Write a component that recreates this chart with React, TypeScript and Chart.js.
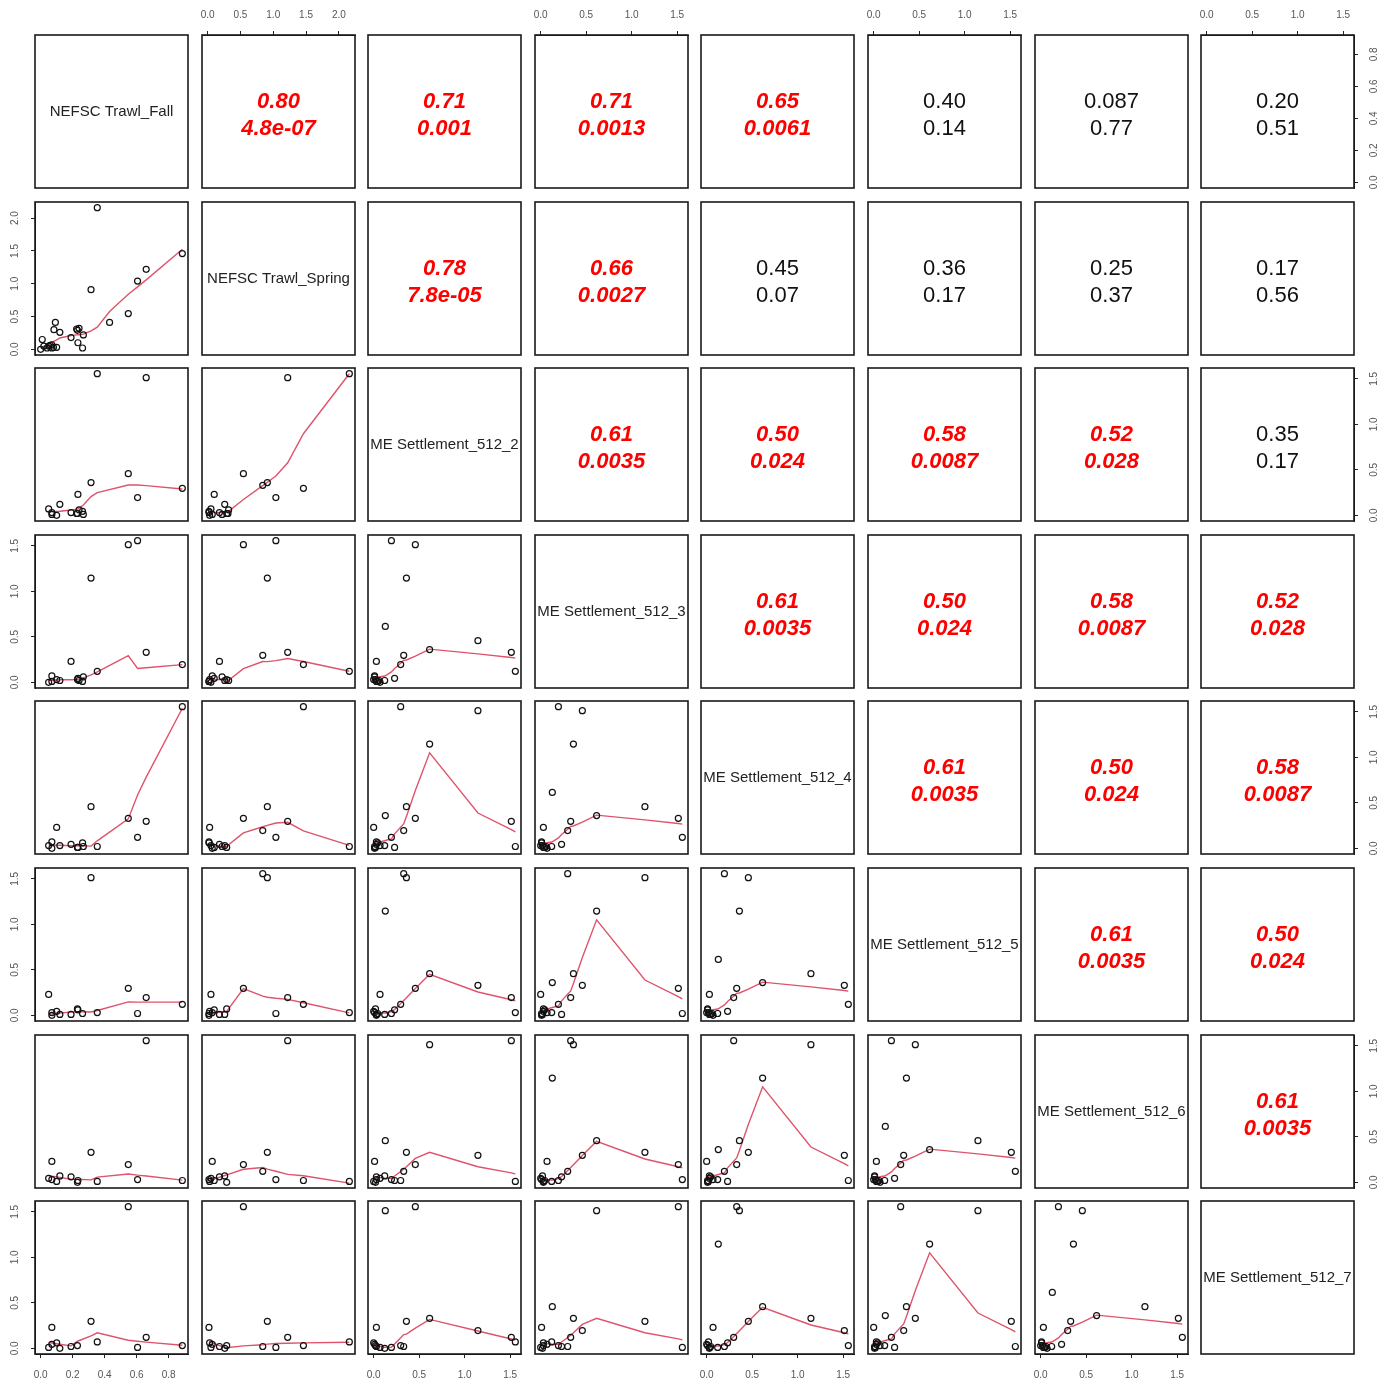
import React, { useEffect, useRef } from "react";
import { Chart, registerables } from "chart.js";

Chart.register(...registerables);

const _ = null;

// ---------- data (one entry per year row) ----------
const fall: (number | null)[] = [
  0.02, 0.01, 0.04, 0.092, 0.083, 0.431, 0.06, 0.0, 0.08,
  0.225, 0.24, 0.267, 0.262, 0.233, 0.19, 0.1, 0.05, 0.07, 0.07,
  0.23, 0.12, 0.354, 0.606, 0.886, _, 0.66, 0.548, _, 0.315,
  _, _, _, _, _, _, _,
];
const spring: (number | null)[] = [
  0.05, 0.15, 0.02, 0.41, 0.3, 0.41, 0.06, 0.0, 0.03,
  0.31, 0.32, 0.22, 0.02, 0.1, 0.18, 0.03, 0.05, 0.07, 0.02,
  0.29, 0.26, 2.16, 1.04, 1.46, 0.84, 1.22, 0.545, _, 0.91,
  _, _, _, _, _, _, _,
];
const settle2: (number | null)[] = [
  _, _, _, _, _, _, _, _, _,
  0.02, 0.06, 0.01, 0.044, 0.23, 0.03, 0.0, 0.07, 0.01, 0.03, 0.02,
  0.121, 1.557, 0.195, 0.297, 0.33, 1.513, 0.458, 1.146, 0.36, 0.615, 0.128,
  _, _, _, _, _,
];
const settle3: (number | null)[] = [
  _, _, _, _, _, _, _, _, _, _,
  0.02, 0.06, 0.01, 0.044, 0.23, 0.03, 0.0, 0.07, 0.01, 0.03, 0.02,
  0.121, 1.557, 0.195, 0.297, 0.33, 1.513, 0.458, 1.146, 0.36, 0.615, 0.128,
  _, _, _, _,
];
const settle4: (number | null)[] = [
  _, _, _, _, _, _, _, _, _, _, _,
  0.02, 0.06, 0.01, 0.044, 0.23, 0.03, 0.0, 0.07, 0.01, 0.03, 0.02,
  0.121, 1.557, 0.195, 0.297, 0.33, 1.513, 0.458, 1.146, 0.36, 0.615, 0.128,
  _, _, _,
];
const settle5: (number | null)[] = [
  _, _, _, _, _, _, _, _, _, _, _, _,
  0.02, 0.06, 0.01, 0.044, 0.23, 0.03, 0.0, 0.07, 0.01, 0.03, 0.02,
  0.121, 1.557, 0.195, 0.297, 0.33, 1.513, 0.458, 1.146, 0.36, 0.615, 0.128,
  _, _,
];
const settle6: (number | null)[] = [
  _, _, _, _, _, _, _, _, _, _, _, _, _,
  0.02, 0.06, 0.01, 0.044, 0.23, 0.03, 0.0, 0.07, 0.01, 0.03, 0.02,
  0.121, 1.557, 0.195, 0.297, 0.33, 1.513, 0.458, 1.146, 0.36, 0.615, 0.128,
  _,
];
const settle7: (number | null)[] = [
  _, _, _, _, _, _, _, _, _, _, _, _, _, _,
  0.02, 0.06, 0.01, 0.044, 0.23, 0.03, 0.0, 0.07, 0.01, 0.03, 0.02,
  0.121, 1.557, 0.195, 0.297, 0.33, 1.513, 0.458, 1.146, 0.36, 0.615, 0.128,
];

const varNames = [
  "NEFSC Trawl_Fall",
  "NEFSC Trawl_Spring",
  "ME Settlement_512_2",
  "ME Settlement_512_3",
  "ME Settlement_512_4",
  "ME Settlement_512_5",
  "ME Settlement_512_6",
  "ME Settlement_512_7",
];
const fallTicks = [0, 0.2, 0.4, 0.6, 0.8];
const springTicks = [0, 0.5, 1, 1.5, 2];
const settleTicks = [0, 0.5, 1, 1.5];

// correlation coefficients and p-values of the upper panels (row by row)
const corR = [
  ["0.80", "0.71", "0.71", "0.65", "0.40", "0.087", "0.20"],
  ["0.78", "0.66", "0.45", "0.36", "0.25", "0.17"],
  ["0.61", "0.50", "0.58", "0.52", "0.35"],
  ["0.61", "0.50", "0.58", "0.52"],
  ["0.61", "0.50", "0.58"],
  ["0.61", "0.50"],
  ["0.61"],
];
const corP = [
  ["4.8e-07", "0.001", "0.0013", "0.0061", "0.14", "0.77", "0.51"],
  ["7.8e-05", "0.0027", "0.07", "0.17", "0.37", "0.56"],
  ["0.0035", "0.024", "0.0087", "0.028", "0.17"],
  ["0.0035", "0.024", "0.0087", "0.028"],
  ["0.0035", "0.024", "0.0087"],
  ["0.0035", "0.024"],
  ["0.0035"],
];

const VARS = [fall, spring, settle2, settle3, settle4, settle5, settle6, settle7];
const TICKS = [fallTicks, springTicks, settleTicks, settleTicks, settleTicks, settleTicks, settleTicks, settleTicks];

// ---------- layout ----------
const BOX0 = 35;
const STEP = 166.6;
const BOX = 153;
const AX = 34;
const FONT = '"Liberation Sans", Arial, Helvetica, sans-serif';

// ---------- lowess (as in R's clowess) ----------
function lowest(x: number[], y: number[], n: number, xs: number, nleft: number, nright: number,
  w: number[], userw: boolean, rw: number[]): number | null {
  const range = x[n - 1] - x[0];
  const h = Math.max(xs - x[nleft], x[nright] - xs);
  const h9 = 0.999 * h, h1 = 0.001 * h;
  let a = 0;
  let j = nleft;
  while (j < n) {
    w[j] = 0;
    const r = Math.abs(x[j] - xs);
    if (r <= h9) {
      if (r <= h1) w[j] = 1;
      else w[j] = Math.pow(1 - Math.pow(r / h, 3), 3);
      if (userw) w[j] *= rw[j];
      a += w[j];
    } else if (x[j] > xs) break;
    j++;
  }
  const nrt = j - 1;
  if (a <= 0) return null;
  for (j = nleft; j <= nrt; j++) w[j] /= a;
  if (h > 0) {
    a = 0;
    for (j = nleft; j <= nrt; j++) a += w[j] * x[j];
    let b = xs - a;
    let c = 0;
    for (j = nleft; j <= nrt; j++) c += w[j] * (x[j] - a) * (x[j] - a);
    if (Math.sqrt(c) > 0.001 * range) {
      b /= c;
      for (j = nleft; j <= nrt; j++) w[j] *= b * (x[j] - a) + 1;
    }
  }
  let ys = 0;
  for (j = nleft; j <= nrt; j++) ys += w[j] * y[j];
  return ys;
}

function lowess(x: number[], y: number[], f = 2 / 3, nsteps = 3): number[] {
  const n = x.length;
  if (n < 2) return y.slice();
  const ys = new Array(n).fill(0);
  const rw = new Array(n).fill(1);
  const res = new Array(n).fill(0);
  const ns = Math.max(2, Math.min(n, Math.floor(f * n + 1e-7)));
  const delta = 0.01 * (x[n - 1] - x[0]);
  let iter = 1;
  while (iter <= nsteps + 1) {
    let nleft = 0, nright = ns - 1, last = -1, i = 0;
    for (;;) {
      if (nright < n - 1) {
        const d1 = x[i] - x[nleft], d2 = x[nright + 1] - x[i];
        if (d1 > d2) { nleft++; nright++; continue; }
      }
      const v = lowest(x, y, n, x[i], nleft, nright, res, iter > 1, rw);
      ys[i] = v === null ? y[i] : v;
      if (last < i - 1) {
        const denom = x[i] - x[last];
        for (let j = last + 1; j < i; j++) {
          const alpha = (x[j] - x[last]) / denom;
          ys[j] = alpha * ys[i] + (1 - alpha) * ys[last];
        }
      }
      last = i;
      const cut = x[last] + delta;
      for (i = last + 1; i < n; i++) {
        if (x[i] > cut) break;
        if (x[i] === x[last]) { ys[i] = ys[last]; last = i; }
      }
      i = Math.max(last + 1, i - 1);
      if (last >= n - 1) break;
    }
    let sc = 0;
    for (let k = 0; k < n; k++) { res[k] = y[k] - ys[k]; sc += Math.abs(res[k]); }
    sc /= n;
    if (iter > nsteps) break;
    const sorted = res.map(Math.abs).sort((p, q) => p - q);
    const m1 = Math.floor(n / 2);
    const cmad = n % 2 === 0 ? 3 * (sorted[m1] + sorted[n - m1 - 1]) : 6 * sorted[m1];
    if (cmad < 1e-7 * sc) break;
    const c9 = 0.999 * cmad, c1 = 0.001 * cmad;
    for (let k = 0; k < n; k++) {
      const r = Math.abs(res[k]);
      rw[k] = r <= c1 ? 1 : r <= c9 ? Math.pow(1 - Math.pow(r / cmad, 2), 2) : 0;
    }
    iter++;
  }
  return ys;
}

function rangeOf(v: (number | null)[]): [number, number] {
  const vals = v.filter((d): d is number => d !== null);
  const lo = Math.min(...vals), hi = Math.max(...vals);
  const pad = 0.04 * (hi - lo);
  return [lo - pad, hi + pad];
}

type PanelProps = { r: number; c: number };

function Panel({ r, c }: PanelProps) {
  const ref = useRef<HTMLCanvasElement>(null);
  const hasTop = r === 0 && c % 2 === 1;
  const hasBottom = r === 7 && c % 2 === 0;
  const hasLeft = c === 0 && r % 2 === 1;
  const hasRight = c === 7 && r % 2 === 0;
  const boxLeft = Math.round(BOX0 + c * STEP);
  const boxTop = Math.round(BOX0 + r * STEP);
  const left = boxLeft - AX;
  const top = boxTop - AX;
  const width = BOX + 2 * AX;
  const height = BOX + 2 * AX;

  useEffect(() => {
    const xv = VARS[c], yv = VARS[r];
    const [xmin, xmax] = rangeOf(xv);
    const [ymin, ymax] = rangeOf(yv);
    const datasets: any[] = [];
    if (r > c) {
      const pts: { x: number; y: number }[] = [];
      for (let i = 0; i < xv.length; i++) {
        const a = xv[i], b = yv[i];
        if (a !== null && b !== null) pts.push({ x: a, y: b });
      }
      const sortedPts = pts.map((p, k) => ({ ...p, k })).sort((p, q) => p.x - q.x || p.k - q.k);
      const sx = sortedPts.map((p) => p.x);
      const sy = sortedPts.map((p) => p.y);
      const fit = lowess(sx, sy);
      datasets.push({
        data: pts,
        showLine: false,
        pointRadius: 3,
        pointHoverRadius: 3,
        pointBorderWidth: 1.2,
        pointBorderColor: "#111",
        pointBackgroundColor: "rgba(0,0,0,0)",
      });
      datasets.push({
        data: sx.map((x, k) => ({ x, y: fit[k] })),
        showLine: true,
        pointRadius: 0,
        borderColor: "#DF536B",
        borderWidth: 1.4,
        fill: false,
        tension: 0,
      });
    }

    const tickFmt = (v: any) => Number(v).toFixed(1);
    const xTicks = TICKS[c];
    const yTicks = TICKS[r];
    const xShown = hasTop || hasBottom;
    const yShown = hasLeft || hasRight;

    const textPlugin = {
      id: "panelText" + r + "_" + c,
      afterDraw(chart: any) {
        const { ctx, chartArea: a } = chart;
        const cx = (a.left + a.right) / 2;
        const cy = (a.top + a.bottom) / 2;
        ctx.save();
        if (r === c) {
          ctx.beginPath();
          ctx.rect(a.left, a.top, a.right - a.left, a.bottom - a.top);
          ctx.clip();
          ctx.fillStyle = "#222";
          ctx.font = `15px ${FONT}`;
          ctx.textAlign = "center";
          ctx.textBaseline = "middle";
          ctx.fillText(varNames[r], cx, cy);
        } else if (c > r) {
          const rv = corR[r][c - r - 1];
          const pv = corP[r][c - r - 1];
          const sig = parseFloat(pv) < 0.05;
          ctx.fillStyle = sig ? "#FF0000" : "#111";
          ctx.font = sig ? `italic bold 22px ${FONT}` : `22px ${FONT}`;
          ctx.textAlign = "center";
          ctx.textBaseline = "middle";
          ctx.fillText(rv, cx, cy - 10);
          ctx.fillText(pv, cx, cy + 17);
        }
        ctx.restore();
        ctx.save();
        ctx.strokeStyle = "#1a1a1a";
        ctx.lineWidth = 1.6;
        ctx.strokeRect(a.left, a.top, a.right - a.left, a.bottom - a.top);
        ctx.restore();
      },
    };

    const chart = new Chart(ref.current as HTMLCanvasElement, {
      type: "scatter",
      data: { datasets },
      options: {
        animation: false,
        responsive: false,
        devicePixelRatio: 1,
        events: [],
        layout: {
          padding: {
            left: hasLeft ? 0 : AX,
            right: hasRight ? 0 : AX,
            top: hasTop ? 0 : AX,
            bottom: hasBottom ? 0 : AX,
          },
        },
        plugins: { legend: { display: false }, tooltip: { enabled: false } },
        scales: {
          x: {
            type: "linear",
            min: xmin,
            max: xmax,
            display: xShown,
            position: hasTop ? "top" : "bottom",
            afterBuildTicks: (s: any) => { s.ticks = xTicks.map((v) => ({ value: v })); },
            afterFit: (s: any) => {
              s.height = xShown ? AX : 0;
              s.paddingLeft = 0; s.paddingRight = 0; s.paddingTop = 0; s.paddingBottom = 0;
            },
            ticks: {
              autoSkip: false,
              maxRotation: 0,
              minRotation: 0,
              padding: hasTop ? 10 : 11,
              color: "#555",
              font: { size: 10, family: FONT },
              callback: tickFmt,
            },
            grid: { drawOnChartArea: false, drawTicks: true, tickLength: 4, color: "#222", lineWidth: 1 },
            border: { display: true, color: "#222", width: 1 },
          },
          y: {
            type: "linear",
            min: ymin,
            max: ymax,
            display: yShown,
            position: hasLeft ? "left" : "right",
            afterBuildTicks: (s: any) => { s.ticks = yTicks.map((v) => ({ value: v })); },
            afterFit: (s: any) => {
              s.width = yShown ? AX : 0;
              s.paddingLeft = 0; s.paddingRight = 0; s.paddingTop = 0; s.paddingBottom = 0;
            },
            ticks: {
              autoSkip: false,
              minRotation: 90,
              maxRotation: 90,
              crossAlign: "center",
              padding: 9,
              color: "#555",
              font: { size: 10, family: FONT },
              callback: tickFmt,
            },
            grid: { drawOnChartArea: false, drawTicks: true, tickLength: 4, color: "#222", lineWidth: 1 },
            border: { display: true, color: "#222", width: 1 },
          },
        },
      } as any,
      plugins: [textPlugin],
    });
    return () => chart.destroy();
  }, [r, c]);

  return (
    <canvas
      ref={ref}
      width={width}
      height={height}
      style={{ position: "absolute", left, top, width, height, display: "block" }}
    />
  );
}

export default function App() {
  const panels: React.ReactNode[] = [];
  for (let r = 0; r < 8; r++) {
    for (let c = 0; c < 8; c++) {
      panels.push(<Panel key={`${r}-${c}`} r={r} c={c} />);
    }
  }
  return (
    <div
      style={{
        position: "absolute",
        left: 0,
        top: 0,
        width: 1395,
        height: 1384,
        overflow: "hidden",
        background: "#fff",
      }}
    >
      {panels}
    </div>
  );
}
